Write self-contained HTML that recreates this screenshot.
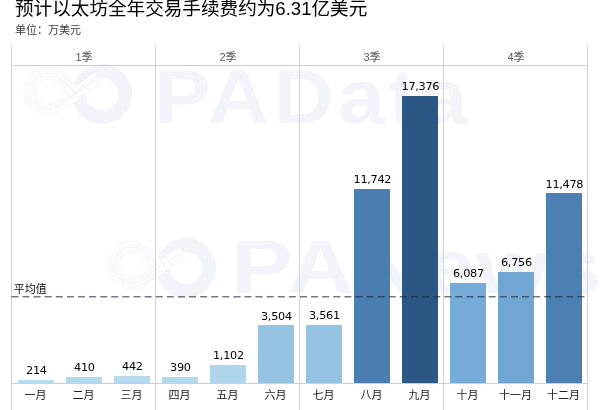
<!DOCTYPE html>
<html lang="zh"><head><meta charset="utf-8"><title>chart</title>
<style>
html,body{margin:0;padding:0;background:#fff;}
body{width:600px;height:410px;position:relative;overflow:hidden;font-family:"Liberation Sans","Noto Sans CJK SC",sans-serif;color:#222;}
.abs{position:absolute}
#title{position:absolute;left:15px;top:-4.7px;font-size:18.6px;line-height:28px;color:#000;white-space:nowrap}
#sub{position:absolute;left:15px;top:22.3px;font-size:11px;line-height:16px;color:#3a3a3a;white-space:nowrap}
.vl{position:absolute;width:1px;background:#d3d4db;top:66px;height:344px}
.vh{position:absolute;width:1px;background:#cfcfd4;top:46px;height:20px}
.hl{position:absolute;height:1px;background:#cecfd6;left:12px;width:576px}
.q{position:absolute;top:47.7px;width:144px;text-align:center;font-size:11px;line-height:18px;color:#5c5c5c}
.bar{position:absolute;width:36px}
.val{position:absolute;width:48px;text-align:center;font-size:11.3px;line-height:16px;color:#000;white-space:nowrap;font-family:"DejaVu Sans",sans-serif;letter-spacing:-0.3px}
.mon{position:absolute;top:387.3px;margin-left:-1px;width:48px;text-align:center;font-size:11px;line-height:16px;color:#222;white-space:nowrap}
.wm{position:absolute;transform-origin:0 0;font-size:76px;line-height:88px;color:#f2f4fa;font-weight:bold;font-family:"Liberation Sans",sans-serif;white-space:nowrap}
#avg{position:absolute;left:13.7px;top:281.5px;font-size:11px;line-height:14px;color:#111}
</style></head><body>
<div class="wm" style="left:153.8px;top:52.5px;letter-spacing:3px;transform:scaleX(1.12)">PAData</div>
<div class="wm" style="left:230.8px;top:223px;letter-spacing:1px;transform:scaleX(1.22)">PANews</div>
<svg class="abs" style="left:0px;top:0px" width="160" height="140" viewBox="0 0 160 140"><g fill="none" stroke-linejoin="round" stroke-linecap="butt"><circle cx="102" cy="94" r="23" stroke="#f2f4fa" stroke-width="14"/><path d="M98.2 78.1 L58.3 105.8 A18 18 0 1 1 60.7 78.3 L76.0 93.5" stroke="#f2f4fa" stroke-width="13"/><path d="M98.2 78.1 L58.3 105.8 A18 18 0 1 1 60.7 78.3 L76.0 93.5" stroke="#fff" stroke-width="11.4"/><path d="M98.2 78.1 L58.3 105.8 A18 18 0 1 1 60.7 78.3 L76.0 93.5" stroke="#f2f4fa" stroke-width="9"/><path d="M98.2 78.1 L58.3 105.8 A18 18 0 1 1 60.7 78.3 L76.0 93.5" stroke="#fff" stroke-width="7.4"/><path d="M98.2 78.1 L58.3 105.8 A18 18 0 1 1 60.7 78.3 L76.0 93.5" stroke="#f2f4fa" stroke-width="5"/><path d="M98.2 78.1 L58.3 105.8 A18 18 0 1 1 60.7 78.3 L76.0 93.5" stroke="#fff" stroke-width="3.4"/><path d="M98.2 78.1 L58.3 105.8 A18 18 0 1 1 60.7 78.3 L76.0 93.5" stroke="#f2f4fa" stroke-width="1.2"/></g></svg>
<svg class="abs" style="left:84px;top:174px" width="160" height="140" viewBox="0 0 160 140"><g fill="none" stroke-linejoin="round" stroke-linecap="butt"><circle cx="102" cy="94" r="23" stroke="#f2f4fa" stroke-width="14"/><path d="M98.2 78.1 L58.3 105.8 A18 18 0 1 1 60.7 78.3 L76.0 93.5" stroke="#f2f4fa" stroke-width="13"/><path d="M98.2 78.1 L58.3 105.8 A18 18 0 1 1 60.7 78.3 L76.0 93.5" stroke="#fff" stroke-width="11.4"/><path d="M98.2 78.1 L58.3 105.8 A18 18 0 1 1 60.7 78.3 L76.0 93.5" stroke="#f2f4fa" stroke-width="9"/><path d="M98.2 78.1 L58.3 105.8 A18 18 0 1 1 60.7 78.3 L76.0 93.5" stroke="#fff" stroke-width="7.4"/><path d="M98.2 78.1 L58.3 105.8 A18 18 0 1 1 60.7 78.3 L76.0 93.5" stroke="#f2f4fa" stroke-width="5"/><path d="M98.2 78.1 L58.3 105.8 A18 18 0 1 1 60.7 78.3 L76.0 93.5" stroke="#fff" stroke-width="3.4"/><path d="M98.2 78.1 L58.3 105.8 A18 18 0 1 1 60.7 78.3 L76.0 93.5" stroke="#f2f4fa" stroke-width="1.2"/></g></svg>
<div id="title">预计以太坊全年交易手续费约为6.31亿美元</div>
<div id="sub">单位：万美元</div>
<div class="vh" style="left:11px"></div><div class="vh" style="left:155px"></div><div class="vh" style="left:299px"></div><div class="vh" style="left:443px"></div><div class="vh" style="left:587px"></div>
<div class="vl" style="left:11px"></div><div class="vl" style="left:155px"></div><div class="vl" style="left:299px"></div><div class="vl" style="left:443px"></div><div class="vl" style="left:587px"></div>
<div class="hl" style="top:65px"></div>
<div class="hl" style="top:383px"></div>
<div class="q" style="left:12px">1季</div><div class="q" style="left:156px">2季</div><div class="q" style="left:300px">3季</div><div class="q" style="left:444px">4季</div>
<div class="bar" style="left:18.1px;top:379.9px;height:3.5px;background:#b7dbf0"></div>
<div class="val" style="left:12.4px;top:363.0px">214</div>
<div class="mon" style="left:12.4px">一月</div>
<div class="bar" style="left:66.1px;top:376.6px;height:6.8px;background:#b5daef"></div>
<div class="val" style="left:60.4px;top:359.7px">410</div>
<div class="mon" style="left:60.4px">二月</div>
<div class="bar" style="left:114.1px;top:376.1px;height:7.3px;background:#b5daef"></div>
<div class="val" style="left:108.4px;top:359.2px">442</div>
<div class="mon" style="left:108.4px">三月</div>
<div class="bar" style="left:162.1px;top:376.9px;height:6.5px;background:#b5daef"></div>
<div class="val" style="left:156.4px;top:360.0px">390</div>
<div class="mon" style="left:156.4px">四月</div>
<div class="bar" style="left:210.1px;top:365.2px;height:18.2px;background:#aed5ec"></div>
<div class="val" style="left:204.4px;top:348.3px">1,102</div>
<div class="mon" style="left:204.4px">五月</div>
<div class="bar" style="left:258.1px;top:325.4px;height:58.0px;background:#96c3e2"></div>
<div class="val" style="left:252.4px;top:308.5px">3,504</div>
<div class="mon" style="left:252.4px">六月</div>
<div class="bar" style="left:306.1px;top:324.5px;height:58.9px;background:#95c2e2"></div>
<div class="val" style="left:300.4px;top:307.6px">3,561</div>
<div class="mon" style="left:300.4px">七月</div>
<div class="bar" style="left:354.1px;top:189.1px;height:194.3px;background:#4b7eb0"></div>
<div class="val" style="left:348.4px;top:172.2px">11,742</div>
<div class="mon" style="left:348.4px">八月</div>
<div class="bar" style="left:402.1px;top:95.8px;height:287.6px;background:#2a5783"></div>
<div class="val" style="left:396.4px;top:78.9px">17,376</div>
<div class="mon" style="left:396.4px">九月</div>
<div class="bar" style="left:450.1px;top:282.7px;height:100.7px;background:#76abd7"></div>
<div class="val" style="left:444.4px;top:265.8px">6,087</div>
<div class="mon" style="left:444.4px">十月</div>
<div class="bar" style="left:498.1px;top:271.6px;height:111.8px;background:#71a6d2"></div>
<div class="val" style="left:492.4px;top:254.7px">6,756</div>
<div class="mon" style="left:492.4px">十一月</div>
<div class="bar" style="left:546.1px;top:193.4px;height:190.0px;background:#4d80b2"></div>
<div class="val" style="left:540.4px;top:176.5px">11,478</div>
<div class="mon" style="left:540.4px">十二月</div>
<div id="avg">平均值</div>
<svg class="abs" style="left:0;top:290px" width="600" height="14" viewBox="0 0 600 14"><line x1="11.4" y1="6.7" x2="588" y2="6.7" stroke="rgba(30,40,52,0.62)" stroke-width="1.5" stroke-dasharray="7 4.1"/></svg>
</body></html>
